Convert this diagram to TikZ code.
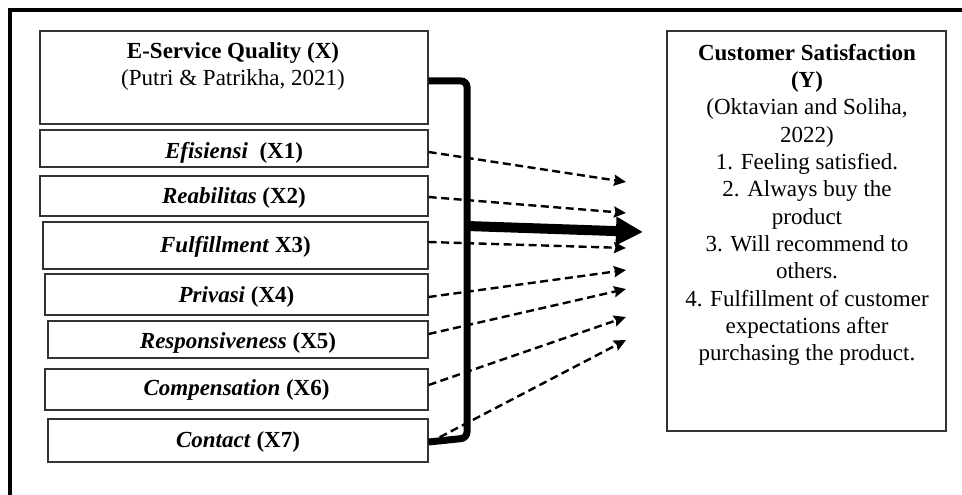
\documentclass[tikz,border=0pt]{standalone}
\usepackage{fontspec}
\setmainfont{Liberation Serif}
\usetikzlibrary{arrows.meta}
\begin{document}
\begin{tikzpicture}[x=1pt,y=-1pt,
  box/.style={draw=black!80, line width=1.3pt, inner sep=0pt, fill=white},
  lbl/.style={inner sep=0pt, anchor=base, font=\fontsize{23}{27.3}\selectfont\bfseries},
  txt/.style={inner sep=0pt, align=center, font=\fontsize{23}{27.3}\selectfont},
  dasharrow/.style={line width=2.4pt, dash pattern=on 8pt off 4.5pt, -{Stealth[length=12pt,width=11pt,inset=1.5pt]}},
  bracketline/.style={line width=7pt, rounded corners=6pt},
  mainarrow/.style={line width=10pt, -{Triangle[length=27pt,width=27pt]}}
]
\useasboundingbox (0,0) rectangle (962,495);
% outer frame (cropped on right and bottom)
\draw[line width=4pt] (10,495) -- (10,10.5) -- (962,10.5);

% left boxes
\node[box, minimum width=388pt, minimum height=93pt] (x0) at (234,77.5) {};
\node[box, minimum width=388pt, minimum height=37pt] (x1) at (234,148.5) {};
\node[box, minimum width=388pt, minimum height=40pt] (x2) at (234,196) {};
\node[box, minimum width=385pt, minimum height=47pt] (x3) at (235.5,245.5) {};
\node[box, minimum width=383pt, minimum height=41pt] (x4) at (236.5,294.5) {};
\node[box, minimum width=380pt, minimum height=37pt] (x5) at (238,339.5) {};
\node[box, minimum width=383pt, minimum height=41pt] (x6) at (236.5,389.5) {};
\node[box, minimum width=380pt, minimum height=43pt] (x7) at (238,440.5) {};

% right box
\node[box, minimum width=279pt, minimum height=400pt] (y) at (806.5,231) {};

% left texts
\node[lbl] (t0a) at (233,59) {E-Service Quality (X)};
\node[lbl, font=\fontsize{23}{27.3}\selectfont] (t0b) at (233,86) {(Putri \& Patrikha, 2021)};
\node[lbl] (t1) at (234,158) {\textit{Efisiensi}\ \ (X1)};
\node[lbl] (t2) at (234,203) {\textit{Reabilitas} (X2)};
\node[lbl] (t3) at (235.5,252) {\textit{Fulfillment} X3)};
\node[lbl] (t4) at (236.5,302) {\textit{Privasi} (X4)};
\node[lbl] (t5) at (238,348) {\textit{Responsiveness} (X5)};
\node[lbl] (t6) at (236.5,395) {\textit{Compensation} (X6)};
\node[lbl] (t7) at (238,447) {\textit{Contact} (X7)};

% right text
\node[txt, anchor=north] (ty) at (807,44) {\textbf{Customer Satisfaction}\\\textbf{(Y)}\\(Oktavian and Soliha,\\2022)\\1. Feeling satisfied.\\2. Always buy the\\product\\3. Will recommend to\\others.\\4. Fulfillment of customer\\expectations after\\purchasing the product.};

% end points of dashed arrows
\coordinate (e1) at (626,182);
\coordinate (e2) at (626,213);
\coordinate (e3) at (626,248);
\coordinate (e4) at (626,270);
\coordinate (e5) at (626,289);
\coordinate (e6) at (626,317);
\coordinate (e7) at (626,340);

\draw[dasharrow] ([yshift=-3.5pt]x1.east) -- (e1);
\draw[dasharrow] ([yshift=-1pt]x2.east) -- (e2);
\draw[dasharrow] ([yshift=3.5pt]x3.east) -- (e3);
\draw[dasharrow] ([yshift=-2.5pt]x4.east) -- (e4);
\draw[dasharrow] ([yshift=5.5pt]x5.east) -- (e5);
\draw[dasharrow] ([yshift=4.5pt]x6.east) -- (e6);
\draw[dasharrow] ([yshift=-2.5pt]x7.east) -- (e7);

% bracket
\coordinate (bt) at (467,81);
\coordinate (bb) at (467,438);
\draw[bracketline] ([yshift=-3.5pt]x0.east) -- (bt) -- (bb) -- ([yshift=-1.5pt]x7.east);

% main arrow
\coordinate (ms) at (467,226);
\coordinate (mt) at (643,232);
\draw[mainarrow] (ms) -- (mt);
\end{tikzpicture}
\end{document}
